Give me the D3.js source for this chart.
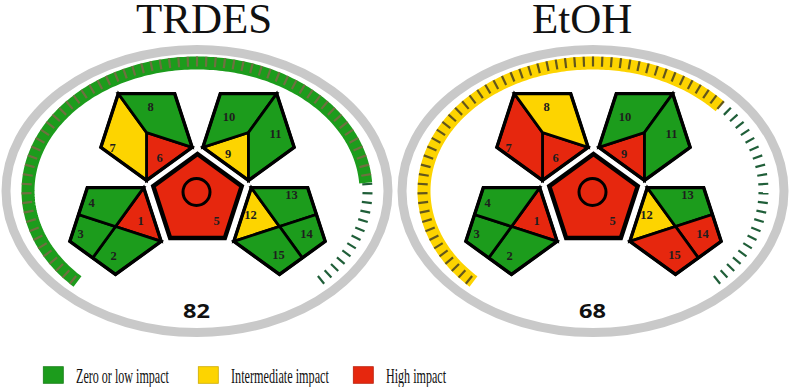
<!DOCTYPE html>
<html><head><meta charset="utf-8">
<script src="https://cdn.jsdelivr.net/npm/d3@7"></script>
<style>html,body{margin:0;padding:0;background:#fff;} svg{display:block;}</style>
</head><body>
<svg id="chart" width="789" height="387"></svg>
<script>
// ---------------- DATA ----------------
const methods = ["TRDES", "EtOH"];
const scores = [82, 68];
const scoreLevels = ["low", "mid"];          // colour of the score gauge
const segmentIds = [1,2,3,4,5,6,7,8,9,10,11,12,13,14,15];
const trdesImpact = ["high","low","low","low","high","high","mid","low","mid","low","low","mid","low","low","low"];
const etohImpact  = ["high","low","low","low","high","high","high","mid","high","low","low","mid","low","high","high"];
const impacts = [trdesImpact, etohImpact];
const impactLevels = ["low","mid","high"];
const impactLabels = ["Zero or low impact","Intermediate impact","High impact"];
const impactColors = ["#1c9c1c","#fdd400","#e6270e"];
const gaugeMax = 100;
const tickCount = 75;

// ---------------- SCALES ----------------
const color = d3.scaleOrdinal().domain(impactLevels).range(impactColors);
const tickColor = d3.scaleOrdinal().domain(["low","mid"]).range(["#6f7040","#62561c"]);
const gaugeAngle = d3.scaleLinear().domain([0, gaugeMax]).range([-135, 135]);
const panelX = d3.scaleBand().domain(methods).range([0, 792]);

const svg = d3.select("#chart");

// ---------------- GEOMETRY ----------------
const rad = Math.PI / 180;
function vert(c, r, deg){ return [c[0] + r*Math.cos(deg*rad), c[1] + r*Math.sin(deg*rad)]; }
function mid(p, q){ return [(p[0]+q[0])/2, (p[1]+q[1])/2]; }
function inverted(c, r){ return {C:c, R:vert(c,r,18), B:vert(c,r,90), L:vert(c,r,162), TL:vert(c,r,234), TR:vert(c,r,306)}; }
function upright(c, r){ return [-90,-18,54,126,198].map(a => vert(c, r, a)); }

const cenC = [197.5, 200.5], cenR = 46.5;
const outR = 48;
const TLc = [146.5, 132.5], TRc = [248.5, 132.5], BLc = [115.5, 226.5], BRc = [279.5, 226.5];

function buildSegments(){
  const tl = inverted(TLc, outR), tr = inverted(TRc, outR), bl = inverted(BLc, outR), br = inverted(BRc, outR);
  return [
    {id:1,  pts:[bl.TR, bl.R, bl.C], c:BLc, lab:[25,-6]},
    {id:2,  pts:[bl.C, bl.R, bl.B, mid(bl.L,bl.B)], c:BLc, lab:[-2,29]},
    {id:3,  pts:[mid(bl.L,bl.TL), bl.C, mid(bl.L,bl.B), bl.L], c:BLc, lab:[-35,7]},
    {id:4,  pts:[bl.TL, bl.TR, bl.C, mid(bl.L,bl.TL)], c:BLc, lab:[-24,-24]},
    {id:5,  pts:upright(cenC, cenR), c:cenC, lab:[19,20], central:true},
    {id:6,  pts:[tl.C, tl.R, tl.B], c:TLc, lab:[13,25]},
    {id:7,  pts:[tl.TL, tl.C, tl.B, tl.L], c:TLc, lab:[-34,15]},
    {id:8,  pts:[tl.TL, tl.TR, tl.R, tl.C], c:TLc, lab:[4,-26]},
    {id:9,  pts:[tr.L, tr.C, tr.B], c:TRc, lab:[-20.5,21]},
    {id:10, pts:[tr.TL, tr.TR, tr.C, tr.L], c:TRc, lab:[-19.5,-16]},
    {id:11, pts:[tr.TR, tr.R, tr.B, tr.C], c:TRc, lab:[27,1]},
    {id:12, pts:[br.TL, br.C, br.L], c:BRc, lab:[-29,-12]},
    {id:13, pts:[br.TL, br.TR, mid(br.TR,br.R), br.C], c:BRc, lab:[12,-32]},
    {id:14, pts:[br.C, mid(br.TR,br.R), br.R, mid(br.R,br.B)], c:BRc, lab:[27,7]},
    {id:15, pts:[br.L, br.C, mid(br.R,br.B), br.B], c:BRc, lab:[-1,28]}
  ];
}
const outlines = [TLc, TRc, BLc, BRc].map(c => { const p = inverted(c, outR); return [p.R, p.B, p.L, p.TL, p.TR]; });

const poly = d3.line().curve(d3.curveLinearClosed);
const arcLine = d3.line();

// gauge ellipse (parametric angle, clockwise from 12 o'clock)
const gcx = 197, gcy = 191, grx = 169, gry = 128;
function gp(a){ return [gcx + grx*Math.sin(a*rad), gcy - gry*Math.cos(a*rad)]; }
function gn(a){ const nx = Math.sin(a*rad)/grx, ny = -Math.cos(a*rad)/gry, l = Math.hypot(nx, ny); return [nx/l, ny/l]; }

// ticks placed at equal arc-length along the gauge
const fine = d3.range(0, 2701).map(k => -135 + k*0.1);
const cum = [0];
for (let k = 1; k < fine.length; k++) {
  const p = gp(fine[k-1]), q = gp(fine[k]);
  cum.push(cum[k-1] + Math.hypot(q[0]-p[0], q[1]-p[1]));
}
const totalLen = cum[cum.length-1];
const lenToAngle = d3.scaleLinear().domain(cum).range(fine);
const tickAngles = d3.range(tickCount).map(i => lenToAngle(totalLen*(i+0.5)/tickCount));

function fitText(sel, width){
  sel.each(function(){
    const natural = this.getComputedTextLength();
    const x = +this.getAttribute("data-x"), y = +this.getAttribute("data-y"), anchor = this.getAttribute("data-anchor");
    const s = width / natural;
    const x0 = anchor === "middle" ? x - width/2 : x;
    d3.select(this).attr("x", 0).attr("y", 0).attr("text-anchor", "start")
      .attr("transform", `translate(${x0},${y}) scale(${s},1)`);
  });
}

methods.forEach((m, mi) => {
  const g = svg.append("g").attr("transform", `translate(${panelX(m)},0)`);
  const levels = impacts[mi];

  // title
  g.append("text").attr("x", 136).attr("y", 33)
    .attr("font-family", "'Liberation Serif','Times New Roman',serif").attr("font-size", 43)
    .attr("fill", "#111").text(m);

  // grey ring
  g.append("ellipse").attr("cx", 197).attr("cy", 191).attr("rx", 191).attr("ry", 141.5)
    .attr("fill", "none").attr("stroke", "#c9c9c9").attr("stroke-width", 9);

  // score band
  const a0 = gaugeAngle(0), a1 = gaugeAngle(scores[mi]);
  const n = 200;
  const bandPts = d3.range(n+1).map(k => gp(a0 + (a1-a0)*k/n));
  g.append("path").attr("d", arcLine(bandPts)).attr("fill", "none")
    .attr("stroke", color(scoreLevels[mi])).attr("stroke-width", 13);

  // ticks
  g.selectAll(".tick").data(tickAngles).join("path")
    .attr("d", a => { const p = gp(a), nv = gn(a);
      return arcLine([[p[0]-3.5*nv[0], p[1]-3.5*nv[1]], [p[0]+6.5*nv[0], p[1]+6.5*nv[1]]]); })
    .attr("stroke", a => a < a1 ? tickColor(scoreLevels[mi]) : "#1f5e38")
    .attr("stroke-width", 2.2).attr("fill", "none");

  // segments
  const segs = buildSegments();
  g.append("path").attr("d", poly(segs[4].pts)).attr("fill", "#fff").attr("stroke", "#fff")
    .attr("stroke-width", 10).attr("stroke-linejoin", "miter");
  g.selectAll(".seg").data(segs).join("path")
    .attr("d", d => poly(d.pts))
    .attr("fill", (d, i) => color(levels[i]))
    .attr("stroke", "#000").attr("stroke-width", d => d.central ? 4.5 : 2.8)
    .attr("stroke-linejoin", "miter");
  g.selectAll(".outline").data(outlines).join("path")
    .attr("d", d => poly(d)).attr("fill", "none").attr("stroke", "#000")
    .attr("stroke-width", 3.4).attr("stroke-linejoin", "miter");
  g.append("circle").attr("cx", cenC[0]-1).attr("cy", cenC[1]-8.5).attr("r", 13.5)
    .attr("fill", "none").attr("stroke", "#000").attr("stroke-width", 3);

  // segment numbers
  g.selectAll(".lab").data(segs).join("text")
    .attr("x", d => d.c[0] + d.lab[0]).attr("y", d => d.c[1] + d.lab[1])
    .attr("text-anchor", "middle").attr("dominant-baseline", "central")
    .attr("font-family", "'Liberation Serif','Times New Roman',serif").attr("font-weight", "bold")
    .attr("font-size", 12.5).attr("fill", "#1e1e1e").text(d => segmentIds[d.id-1]);

  // score
  g.append("text").attr("data-x", 196.5).attr("data-y", 318).attr("data-anchor", "middle")
    .attr("font-family", "'Open Sans',Arial,sans-serif").attr("font-weight", 700)
    .attr("font-size", 19.5).attr("fill", "#111").text(scores[mi])
    .call(fitText, 27);
});

// ---------------- LEGEND ----------------
const legendX = [43.3, 198.3, 353.3];
const legendLen = [93, 98, 60];
const lg = svg.append("g");
impactLevels.forEach((lv, i) => {
  lg.append("rect").attr("x", legendX[i]).attr("y", 366.7).attr("width", 20).attr("height", 16.6)
    .attr("fill", color(lv)).attr("stroke", d3.color(color(lv)).darker(0.6)).attr("stroke-width", 0.8);
  lg.append("text").attr("data-x", legendX[i] + 32.7).attr("data-y", 382.5).attr("data-anchor", "start")
    .attr("font-family", "'Liberation Serif','Times New Roman',serif").attr("font-size", 21)
    .attr("fill", "#111").text(impactLabels[i])
    .call(fitText, legendLen[i]);
});
</script>
</body></html>
